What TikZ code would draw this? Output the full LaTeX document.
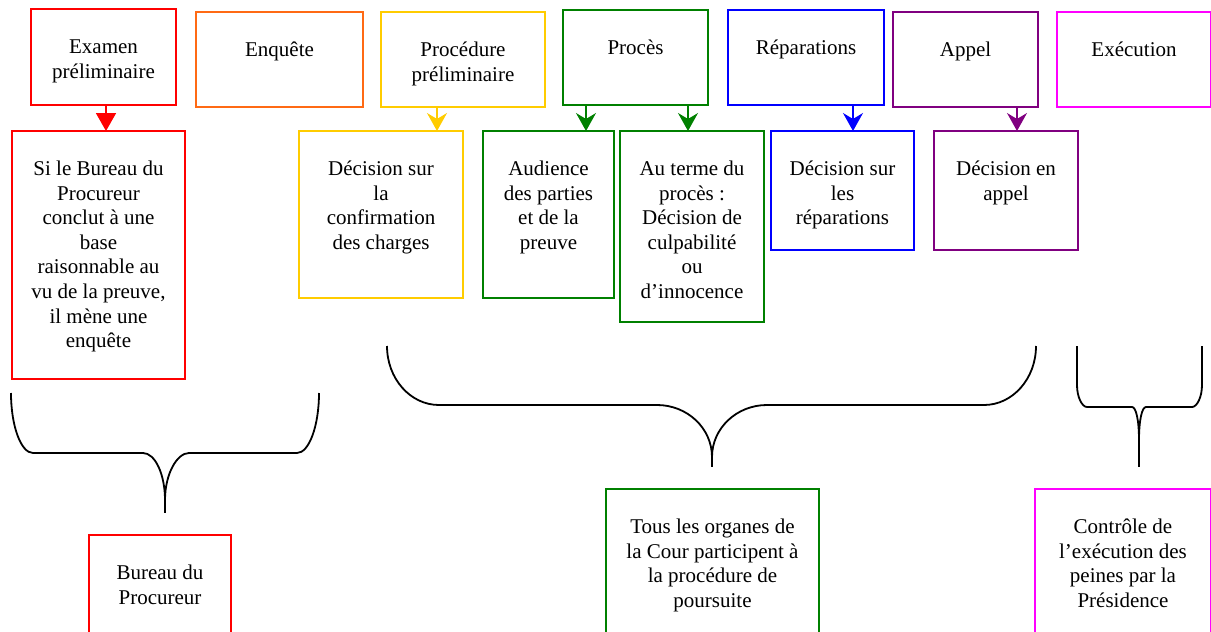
\documentclass[tikz,border=0pt]{standalone}
\usepackage{fontspec}
\setmainfont{Liberation Serif}
\usetikzlibrary{arrows.meta}

\definecolor{cRed}{HTML}{FF0000}
\definecolor{cOrange}{HTML}{FF6A14}
\definecolor{cYellow}{HTML}{FFCC00}
\definecolor{cGreen}{HTML}{008000}
\definecolor{cBlue}{HTML}{0000FF}
\definecolor{cPurple}{HTML}{800080}
\definecolor{cMagenta}{HTML}{FF00FF}

% box contents: width, height, text set from the top of the box
\newcommand{\boxtxt}[3]{\parbox[c][#2pt][t]{#1pt}{\centering\vspace*{27.3pt}\strut #3\par}}

\begin{document}
\begin{tikzpicture}[x=1pt,y=-1pt,
  box/.style={draw, line width=1.8pt, inner sep=0pt, outer sep=0pt,
              anchor=north west, font=\fontsize{21}{24.6}\selectfont},
  flow/.style={line width=1.8pt, -{Stealth[length=18pt,width=20pt,inset=6pt]}},
  flowtri/.style={line width=1.8pt, -{Triangle[length=18pt,width=20pt]}},
  brace/.style={draw=black, line width=1.8pt, line join=round}]

\useasboundingbox (0,0) rectangle (1211,632);
\clip (0,0) rectangle (1211,632);

% stages
\node[box, draw=cRed]     (exam)  at (31,9)   {\boxtxt{145}{96}{Examen\\préliminaire}};
\node[box, draw=cOrange]  (enq)   at (196,12) {\boxtxt{167}{95}{Enquête}};
\node[box, draw=cYellow]  (ppre)  at (381,12) {\boxtxt{164}{95}{Procédure\\préliminaire}};
\node[box, draw=cGreen]   (proc)  at (563,10) {\boxtxt{145}{95}{Procès}};
\node[box, draw=cBlue]    (repa)  at (728,10) {\boxtxt{156}{95}{Réparations}};
\node[box, draw=cPurple]  (appel) at (893,12) {\boxtxt{145}{95}{Appel}};
\node[box, draw=cMagenta] (exe)   at (1057,12){\boxtxt{154}{95}{Exécution}};

% outcomes
\node[box, draw=cRed]    (si)    at (12,131)  {\boxtxt{173}{248}{Si le Bureau du\\Procureur\\conclut à une\\base\\raisonnable au\\vu de la preuve,\\il mène une\\enquête}};
\node[box, draw=cYellow] (dconf) at (299,131) {\boxtxt{164}{167}{Décision sur\\la\\confirmation\\des charges}};
\node[box, draw=cGreen]  (aud)   at (483,131) {\boxtxt{131}{167}{Audience\\des parties\\et de la\\preuve}};
\node[box, draw=cGreen]  (term)  at (620,131) {\boxtxt{144}{191}{Au terme du\\procès :\\Décision de\\culpabilité\\ou\\d’innocence}};
\node[box, draw=cBlue]   (drep)  at (771,131) {\boxtxt{143}{119}{Décision sur\\les\\réparations}};
\node[box, draw=cPurple] (dapp)  at (934,131) {\boxtxt{144}{119}{Décision en\\appel}};

% organs
\node[box, draw=cRed]     (bur)  at (89,535)   {\boxtxt{142}{120}{Bureau du\\Procureur}};
\node[box, draw=cGreen]   (tous) at (606,489)  {\boxtxt{213}{170}{Tous les organes de\\la Cour participent à\\la procédure de\\poursuite}};
\node[box, draw=cMagenta] (ctrl) at (1035,489) {\boxtxt{176}{170}{Contrôle de\\l’exécution des\\peines par la\\Présidence}};

% arrow columns
\coordinate (xa) at (106,0);
\coordinate (xb) at (437,0);
\coordinate (xc) at (586,0);
\coordinate (xd) at (688,0);
\coordinate (xe) at (853,0);
\coordinate (xf) at (1017,0);

\draw[flowtri, cRed]  (exam.south -| xa)  -- (si.north -| xa);
\draw[flow, cYellow]  (ppre.south -| xb)  -- (dconf.north -| xb);
\draw[flow, cGreen]   (proc.south -| xc)  -- (aud.north -| xc);
\draw[flow, cGreen]   (proc.south -| xd)  -- (term.north -| xd);
\draw[flow, cBlue]    (repa.south -| xe)  -- (drep.north -| xe);
\draw[flow, cPurple]  (appel.south -| xf) -- (dapp.north -| xf);

% braces
\path[brace] (11,393) .. controls (11,426) and (21,453) .. (33,453) -- (143,453)
  .. controls (155,453) and (165,474) .. (165,500)
  .. controls (165,474) and (177,453) .. (189,453) -- (297,453)
  .. controls (309,453) and (319,426) .. (319,393);
\path[brace] (165,500) -- (165,513);

\path[brace] (387,346) .. controls (387,378.6) and (410.3,405) .. (439,405) -- (657,405)
  .. controls (687.4,405) and (712,428.3) .. (712,457)
  .. controls (712,428.3) and (736.6,405) .. (767,405) -- (984,405)
  .. controls (1012.7,405) and (1036,378.6) .. (1036,346);
\path[brace] (712,457) -- (712,467);

\path[brace] (1077,346) -- (1077,385) .. controls (1077,397) and (1082,407) .. (1087,407) -- (1132,407)
  .. controls (1136,407) and (1139,420) .. (1139,440)
  .. controls (1139,420) and (1142,407) .. (1146,407) -- (1192,407)
  .. controls (1197,407) and (1202,397) .. (1202,385) -- (1202,346);
\path[brace] (1139,440) -- (1139,467);

\end{tikzpicture}
\end{document}
